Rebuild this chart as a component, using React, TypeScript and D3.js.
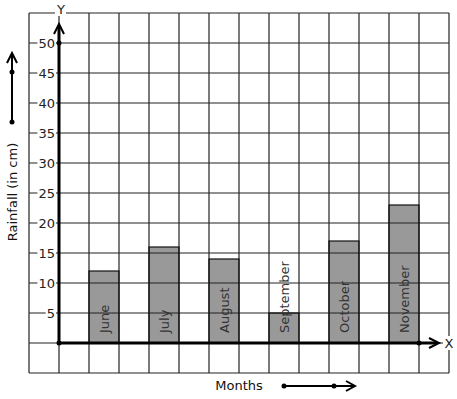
import React from "react";
import * as d3 from "d3";

const months = ["June", "July", "August", "September", "October", "November"];
const rainfall = [12, 16, 14, 5, 17, 23];
const yTicks = [5, 10, 15, 20, 25, 30, 35, 40, 45, 50];
const yTitle = "Rainfall (in cm)";
const xTitle = "Months";

const W = 457;
const H = 399;

export default function App() {
  const gx = d3.scaleLinear().domain([0, 14]).range([29, 449]);
  const y = d3.scaleLinear().domain([0, 55]).range([343, 13]);
  const yGrid = d3.range(-5, 56, 5);
  const xGrid = d3.range(0, 15);
  const x0 = gx(1);
  const y0 = y(0);
  const font = "DejaVu Sans, sans-serif";
  const lineCol = "#222";

  return (
    <svg
      width={W}
      height={H}
      style={{ position: "absolute", left: 0, top: 0, background: "#fff" }}
      fontFamily={font}
    >
      <rect x={0} y={0} width={W} height={H} fill="#fff" />
      {/* bars */}
      {months.map((m, i) => {
        const c = 2 + i * 2;
        return (
          <rect
            key={m}
            x={gx(c)}
            y={y(rainfall[i])}
            width={gx(c + 1) - gx(c)}
            height={y0 - y(rainfall[i])}
            fill="#999"
          />
        );
      })}
      {/* grid */}
      {xGrid.map((c) => (
        <line key={"vx" + c} x1={gx(c)} x2={gx(c)} y1={y(55)} y2={y(-5)} stroke={lineCol} strokeWidth={1.2} />
      ))}
      {yGrid.map((v) => (
        <line key={"hy" + v} x1={gx(0)} x2={gx(14)} y1={y(v)} y2={y(v)} stroke={lineCol} strokeWidth={1.2} />
      ))}
      {/* bar outlines */}
      {months.map((m, i) => {
        const c = 2 + i * 2;
        return (
          <rect
            key={"o" + m}
            x={gx(c)}
            y={y(rainfall[i])}
            width={gx(c + 1) - gx(c)}
            height={y0 - y(rainfall[i])}
            fill="none"
            stroke="#111"
            strokeWidth={1.2}
          />
        );
      })}
      {/* month labels */}
      {months.map((m, i) => {
        const c = 2 + i * 2.5 - i * 0.5;
        const cx = (gx(c) + gx(c + 1)) / 2;
        return (
          <text
            key={"t" + m}
            transform={`translate(${cx + 5},${y0 - 10}) rotate(-90)`}
            fontSize={13}
            fill="#333"
          >
            {m}
          </text>
        );
      })}
      {/* y tick labels */}
      {yTicks.map((v) => {
        const w = String(v).length * 8.3;
        return (
          <g key={"yl" + v}>
            <rect x={55 - w - 1} y={y(v) - 6} width={w + 2} height={12} fill="#fff" />
            <text x={55} y={y(v) + 5} textAnchor="end" fontSize={13} fill="#222">
              {v}
            </text>
          </g>
        );
      })}
      {/* axes */}
      <line x1={x0} x2={x0} y1={y0} y2={25} stroke="#000" strokeWidth={3} />
      <path d={`M${x0 - 5},34 L${x0},24 L${x0 + 5},34`} fill="none" stroke="#000" strokeWidth={2} />
      <line x1={x0} x2={437} y1={y0} y2={y0} stroke="#000" strokeWidth={3} />
      <path d={`M429,${y0 - 5} L439,${y0} L429,${y0 + 5}`} fill="none" stroke="#000" strokeWidth={2} />
      <circle cx={x0} cy={y(50)} r={2.5} fill="#000" />
      <circle cx={x0} cy={y0} r={2.5} fill="#000" />
      <circle cx={gx(13)} cy={y0} r={2.5} fill="#000" />
      {/* axis letters */}
      <rect x={55} y={2} width={11} height={14} fill="#fff" />
      <text x={61} y={14} textAnchor="middle" fontSize={13} fill="#222">Y</text>
      <rect x={443} y={336} width={12} height={14} fill="#fff" />
      <text x={449} y={348} textAnchor="middle" fontSize={13} fill="#222">X</text>
      {/* left title and arrow */}
      <text
        transform={`translate(17,192) rotate(-90)`}
        textAnchor="middle"
        fontSize={13}
        fill="#111"
      >
        {yTitle}
      </text>
      <line x1={12} x2={12} y1={122} y2={54} stroke="#000" strokeWidth={2} />
      <path d="M7,63 L12,53 L17,63" fill="none" stroke="#000" strokeWidth={2} />
      <circle cx={12} cy={122} r={2.5} fill="#000" />
      <circle cx={12} cy={72} r={2.5} fill="#000" />
      {/* bottom title and arrow */}
      <text x={239} y={390} textAnchor="middle" fontSize={13} fill="#111">
        {xTitle}
      </text>
      <line x1={284} x2={354} y1={386} y2={386} stroke="#000" strokeWidth={2} />
      <path d="M346,381 L355,386 L346,391" fill="none" stroke="#000" strokeWidth={2} />
      <circle cx={284} cy={386} r={2.5} fill="#000" />
      <circle cx={334} cy={386} r={2.5} fill="#000" />
    </svg>
  );
}
